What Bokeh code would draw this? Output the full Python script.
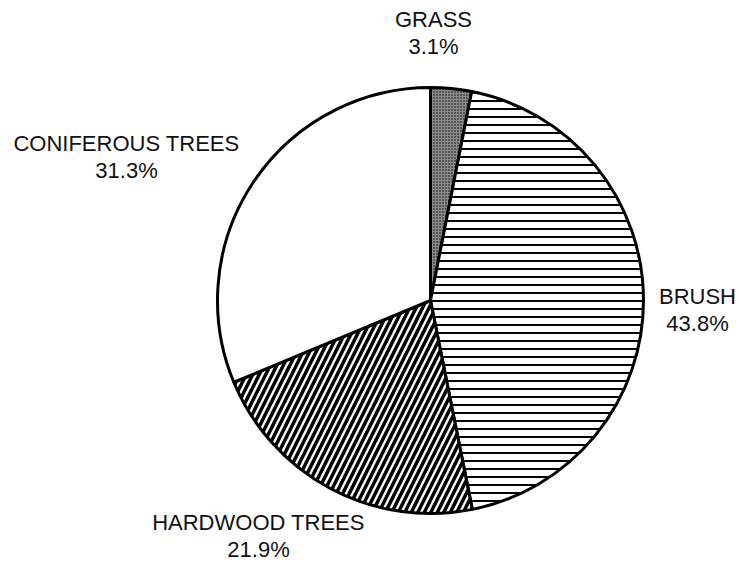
import math
from bokeh.plotting import figure
from bokeh.models import Range1d
from bokeh.core.properties import value
from bokeh.embed import file_html
from bokeh.resources import INLINE

categories = ["GRASS", "BRUSH", "HARDWOOD TREES", "CONIFEROUS TREES"]
shares = [3.1, 43.8, 21.9, 31.3]
fills = ["#8c8c8c", "white", "white", "white"]
hatches = [".", "-", "/", " "]
hatch_scales = [3, 8, 13, 8]
hatch_weights = [1, 2, 3.5, 1]
# label centers in page pixels
label_x = [433, 697, 258, 126]
label_y = [19, 296, 522, 143]

W, H = 739, 565
p = figure(width=W, height=H, output_backend="svg", toolbar_location=None,
           x_range=Range1d(0, W), y_range=Range1d(565 - H, 565),
           min_border=0, outline_line_color=None)
p.axis.visible = False
p.grid.visible = False

def Y(py):
    return 565 - py

cx, cy, r = 430, Y(300), 213
total = sum(shares)
cum = 0.0
for i, v in enumerate(shares):
    a0 = math.pi / 2 - 2 * math.pi * cum / total
    cum += v
    a1 = math.pi / 2 - 2 * math.pi * cum / total
    p.wedge(x=cx, y=cy, radius=r, start_angle=a0, end_angle=a1, direction="clock",
            fill_color=fills[i], line_color="black", line_width=3,
            hatch_pattern=hatches[i], hatch_color="black",
            hatch_scale=hatch_scales[i], hatch_weight=hatch_weights[i])

for i, c in enumerate(categories):
    p.text(x=[label_x[i]], y=[Y(label_y[i])], text=[c], text_align="center",
           text_baseline="middle", text_font=value("Liberation Sans"),
           text_font_size="22px", text_color="#111111")
    p.text(x=[label_x[i]], y=[Y(label_y[i] + 27)], text=[f"{shares[i]:.1f}%"],
           text_align="center", text_baseline="middle",
           text_font=value("Liberation Sans"), text_font_size="22px",
           text_color="#111111")

open("out.html", "w").write(file_html(p, INLINE))
